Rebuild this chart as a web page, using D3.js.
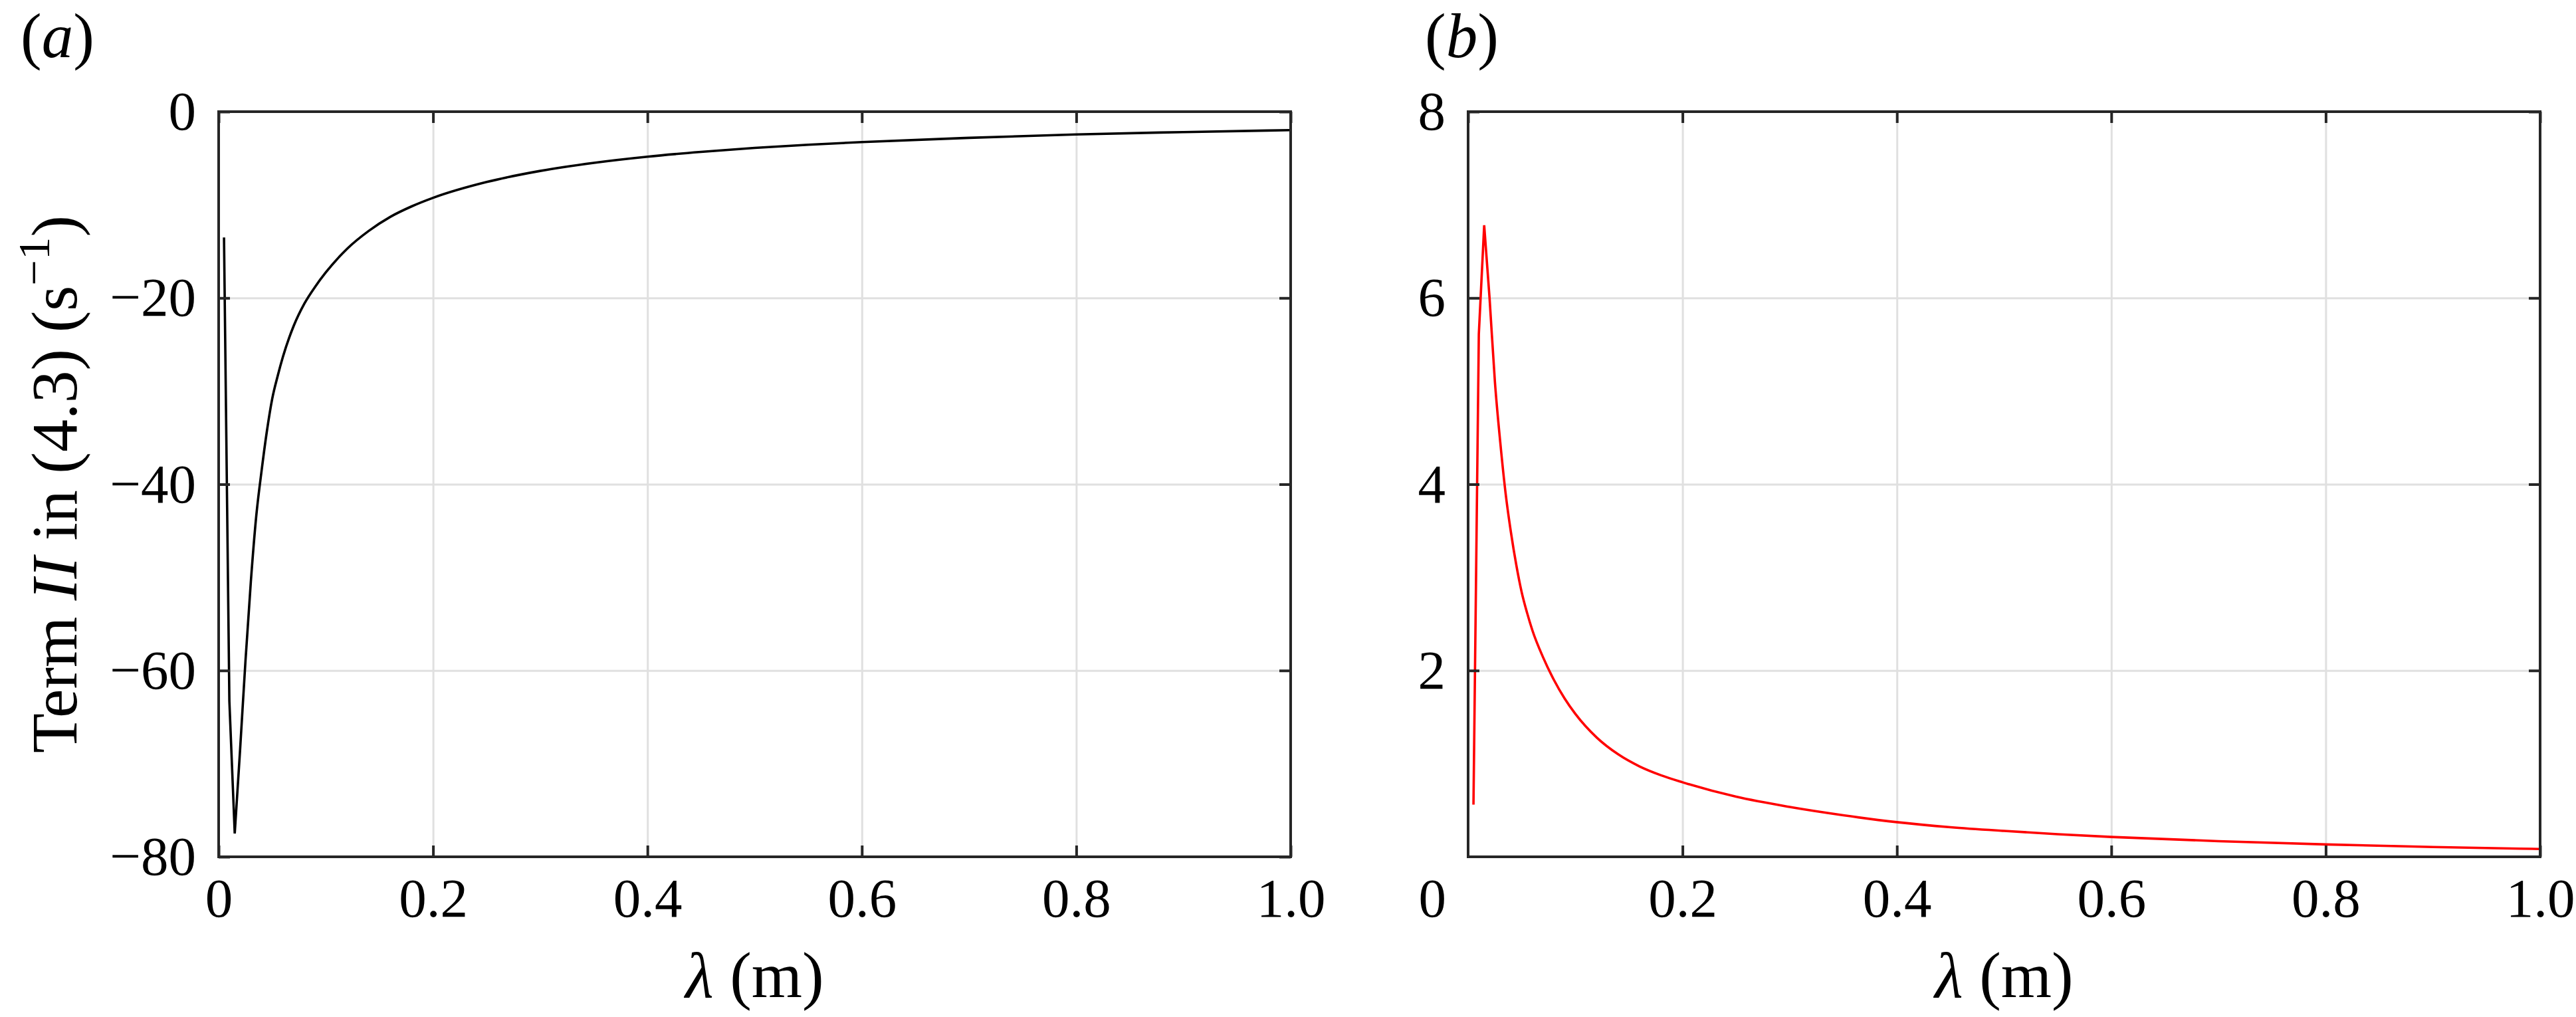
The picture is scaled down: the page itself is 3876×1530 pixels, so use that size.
<!DOCTYPE html>
<html>
<head>
<meta charset="utf-8">
<script src="https://cdn.jsdelivr.net/npm/d3@7"></script>
<style>
  html, body { margin: 0; padding: 0; background: #ffffff; }
  svg { display: block; }
  text { font-family: "Liberation Serif", "Times New Roman", Times, serif; fill: #000; }
</style>
</head>
<body>
<svg id="chart" width="3876" height="1530"></svg>
<script>
// ---- Data ----
const lambda = [0.005, 0.01, 0.015, 0.02, 0.025, 0.03, 0.035, 0.04, 0.045, 0.05, 0.055,
                0.06, 0.07, 0.08, 0.09, 0.10, 0.12, 0.14, 0.16, 0.18, 0.20,
                0.25, 0.30, 0.35, 0.40, 0.45, 0.50, 0.55, 0.60, 0.70, 0.80, 0.90, 1.00];
const termA = [-13.5, -63.3, -77.5, -68.5, -59.0, -50.5, -43.5, -38.6, -34.3, -30.8, -28.4,
               -26.3, -23.0, -20.6, -18.8, -17.25, -14.7, -12.8, -11.3, -10.17, -9.25,
               -7.55, -6.36, -5.49, -4.83, -4.32, -3.89, -3.55, -3.26, -2.81, -2.44, -2.19, -1.98];
const termB = [0.56, 5.61, 6.78, 6.0, 5.1, 4.45, 3.9, 3.48, 3.13, 2.84, 2.62,
               2.43, 2.14, 1.90, 1.70, 1.535, 1.28, 1.10, 0.97, 0.875, 0.80,
               0.645, 0.535, 0.446, 0.372, 0.318, 0.278, 0.243, 0.213, 0.168, 0.133, 0.105, 0.084];
const xTicks = [0, 0.2, 0.4, 0.6, 0.8, 1.0];
const xTickLabels = ["0", "0.2", "0.4", "0.6", "0.8", "1.0"];
const yTicksA = [0, -20, -40, -60, -80];
const yTicksB = [2, 4, 6, 8];
const panelLabels = ["a", "b"];
const xLabelSymbol = "λ";
const xLabelUnit = " (m)";

// ---- Layout ----
const svg = d3.select("#chart");
const plotTop = 168, plotBottom = 1289;
const panels = [
  { left: 329, right: 1942, yDomain: [-80, 0], yTicks: yTicksA, data: termA, color: "#000000", label: panelLabels[0], zeroX: "axis" },
  { left: 2209, right: 3822, yDomain: [0, 8], yTicks: yTicksB, data: termB, color: "#ff0000", label: panelLabels[1], zeroX: "shift" }
];
const tickFont = 83, labelFont = 98, panelFont = 95;
const axisColor = "#262626", gridColor = "#e0e0e0";
const tickLen = 17;
const fontFam = '"Liberation Serif", "Times New Roman", Times, serif';
const sharpCount = 3; // first samples joined by straight segments (spike)

panels.forEach((p, i) => {
  const x = d3.scaleLinear().domain([0, 1]).range([p.left, p.right]);
  const y = d3.scaleLinear().domain(p.yDomain).range([plotBottom, plotTop]);
  const g = svg.append("g");
  const W = p.right - p.left, H = plotBottom - plotTop;

  // grid
  const gx = g.append("g").attr("transform", `translate(0,${plotBottom})`)
    .call(d3.axisBottom(x).tickValues(xTicks.filter(v => v > 0 && v < 1)).tickSize(-H).tickFormat(""));
  gx.select(".domain").remove();
  gx.selectAll("line").attr("stroke", gridColor).attr("stroke-width", 3);
  const gy = g.append("g").attr("transform", `translate(${p.left},0)`)
    .call(d3.axisLeft(y).tickValues(p.yTicks.filter(v => v > p.yDomain[0] && v < p.yDomain[1])).tickSize(-W).tickFormat(""));
  gy.select(".domain").remove();
  gy.selectAll("line").attr("stroke", gridColor).attr("stroke-width", 3);

  // curve: straight segments through the spike, smooth afterwards
  const pts = p.data.map((v, k) => [lambda[k], v]);
  const headLine = d3.line().x(d => x(d[0])).y(d => y(d[1])).curve(d3.curveLinear);
  const tailLine = d3.line().x(d => x(d[0])).y(d => y(d[1])).curve(d3.curveMonotoneX);
  const dPath = headLine(pts.slice(0, sharpCount)) + tailLine(pts.slice(sharpCount - 1)).replace(/^M/, "L");
  g.append("path")
    .attr("d", dPath)
    .attr("fill", "none")
    .attr("stroke", p.color)
    .attr("stroke-width", 3.6)
    .attr("stroke-linejoin", "miter")
    .attr("stroke-miterlimit", 10);

  // axes with inward ticks
  const styleAxis = sel => {
    sel.attr("font-family", fontFam);
    sel.select(".domain").remove();
    sel.selectAll("line").attr("stroke", axisColor).attr("stroke-width", 4);
    sel.selectAll("text").attr("font-size", tickFont).attr("font-family", fontFam).attr("fill", "#000");
  };
  const bx = p.zeroX === "axis" ? xTicks : xTicks.filter(v => v > 0);
  const ax = g.append("g").attr("transform", `translate(0,${plotBottom})`)
    .call(d3.axisBottom(x).tickValues(bx).tickSize(-tickLen).tickPadding(31)
      .tickFormat(v => xTickLabels[xTicks.indexOf(v)]));
  styleAxis(ax);
  const at = g.append("g").attr("transform", `translate(0,${plotTop})`)
    .call(d3.axisTop(x).tickValues(xTicks).tickSize(-tickLen).tickFormat(""));
  styleAxis(at);
  const ay = g.append("g").attr("transform", `translate(${p.left},0)`)
    .call(d3.axisLeft(y).tickValues(p.yTicks).tickSize(-tickLen).tickPadding(34)
      .tickFormat(v => v < 0 ? "\u2212" + Math.abs(v) : String(v)));
  styleAxis(ay);
  const ar = g.append("g").attr("transform", `translate(${p.right},0)`)
    .call(d3.axisRight(y).tickValues(p.yTicks).tickSize(-tickLen).tickFormat(""));
  styleAxis(ar);

  // shifted zero label for panel b
  if (p.zeroX === "shift") {
    g.append("text")
      .attr("x", x(0) - 33)
      .attr("y", plotBottom + 31)
      .attr("dy", "0.71em")
      .attr("text-anchor", "end")
      .attr("font-size", tickFont)
      .text(xTickLabels[0]);
  }

  // frame
  g.append("rect")
    .attr("x", p.left).attr("y", plotTop)
    .attr("width", W).attr("height", H)
    .attr("fill", "none").attr("stroke", axisColor).attr("stroke-width", 4);

  // x label
  const xl = g.append("text")
    .attr("x", (p.left + p.right) / 2)
    .attr("y", 1500)
    .attr("text-anchor", "middle")
    .attr("font-size", labelFont);
  xl.append("tspan").attr("font-style", "italic").text(xLabelSymbol);
  xl.append("tspan").text(xLabelUnit);

  // panel label
  const pl = g.append("text")
    .attr("x", p.left - (i === 0 ? 298 : 65))
    .attr("y", 86)
    .attr("font-size", panelFont);
  pl.append("tspan").text("(");
  pl.append("tspan").attr("font-style", "italic").text(p.label);
  pl.append("tspan").text(")");
});

// y label for panel a
const yl = svg.append("text")
  .attr("transform", `translate(115,${(plotTop + plotBottom) / 2}) rotate(-90)`)
  .attr("text-anchor", "middle")
  .attr("font-size", labelFont);
yl.append("tspan").text("Term ");
yl.append("tspan").attr("font-style", "italic").text("II");
yl.append("tspan").text(" in (4.3) (s");
yl.append("tspan").attr("font-size", labelFont * 0.7).attr("dy", -labelFont * 0.42).text("\u22121");
yl.append("tspan").attr("dy", labelFont * 0.42).text(")");
</script>
</body>
</html>
